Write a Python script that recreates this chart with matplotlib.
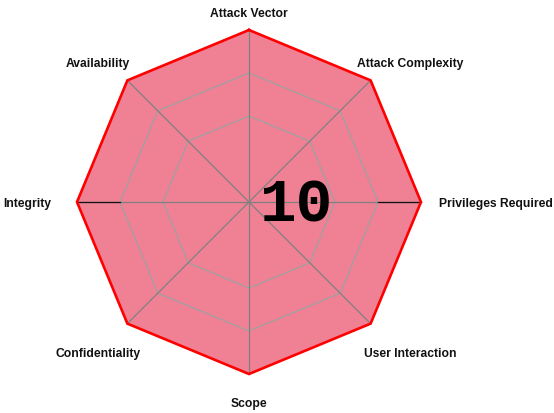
import numpy as np
import matplotlib
matplotlib.use("Agg")
import matplotlib.pyplot as plt

categories = ["Attack Vector", "Attack Complexity", "Privileges Required",
              "User Interaction", "Scope", "Confidentiality", "Integrity", "Availability"]
values = [10, 10, 10, 10, 10, 10, 10, 10]
score_label = "10"
rmax = 10
grid_levels = [5, 7.5, 10]

W, H = 554, 413
cx, cy, R = 249, 202, 172  # pixel layout of the chart
scale = R / rmax

fig = plt.figure(figsize=(W / 100, H / 100), dpi=100)
ax = fig.add_axes([0, 0, 1, 1])
ax.set_xlim(-cx / scale, (W - cx) / scale)
ax.set_ylim(-(H - cy) / scale, cy / scale)
ax.axis("off")

n = len(categories)
ang = np.pi / 2 - np.arange(n) * 2 * np.pi / n
ux, uy = np.cos(ang), np.sin(ang)

# data polygon fill
vals = np.array(values, dtype=float)
px, py = vals * ux, vals * uy
ax.fill(px, py, color="#F08094", zorder=1, linewidth=0)

# grid rings
for lv in grid_levels[:-1]:
    gx = np.append(lv * ux, lv * ux[0])
    gy = np.append(lv * uy, lv * uy[0])
    ax.plot(gx, gy, color="#a0a0a0", lw=0.9, zorder=2)

# spokes
for i in range(n):
    ax.plot([0, rmax * ux[i]], [0, rmax * uy[i]], color="#808080", lw=0.9, zorder=2)
# darker horizontal outer segments
for i in (2, 6):
    ax.plot([grid_levels[1] * ux[i], rmax * ux[i]], [grid_levels[1] * uy[i], rmax * uy[i]],
            color="#111111", lw=0.9, zorder=2)

# outline
ax.plot(np.append(px, px[0]), np.append(py, py[0]), color="#FF0000", lw=1.9, zorder=3,
        solid_joinstyle="miter")

# labels
offs = [(0.0, 10.95, "center"), (9.4, 8.05, "center"), (11.0, -0.1, "left"), (9.4, -8.85, "center"),
        (0.0, -11.75, "center"), (-8.8, -8.85, "center"), (-11.3, -0.1, "right"), (-8.8, 8.05, "center")]
for cat, (x, y, ha) in zip(categories, offs):
    if ha == "left":
        x = (439 - cx) / scale
    if ha == "right":
        x = (51 - cx) / scale
    ax.text(x, y, cat, ha=ha, va="center", fontsize=8.7, fontweight="bold",
            family="Liberation Sans", color="#111111", zorder=4)

ax.text((297 - cx) / scale, -0.2, score_label, ha="center", va="center", fontsize=44,
        fontweight="bold", family="Liberation Mono", color="black", zorder=5)

fig.savefig("out.png", dpi=100)
